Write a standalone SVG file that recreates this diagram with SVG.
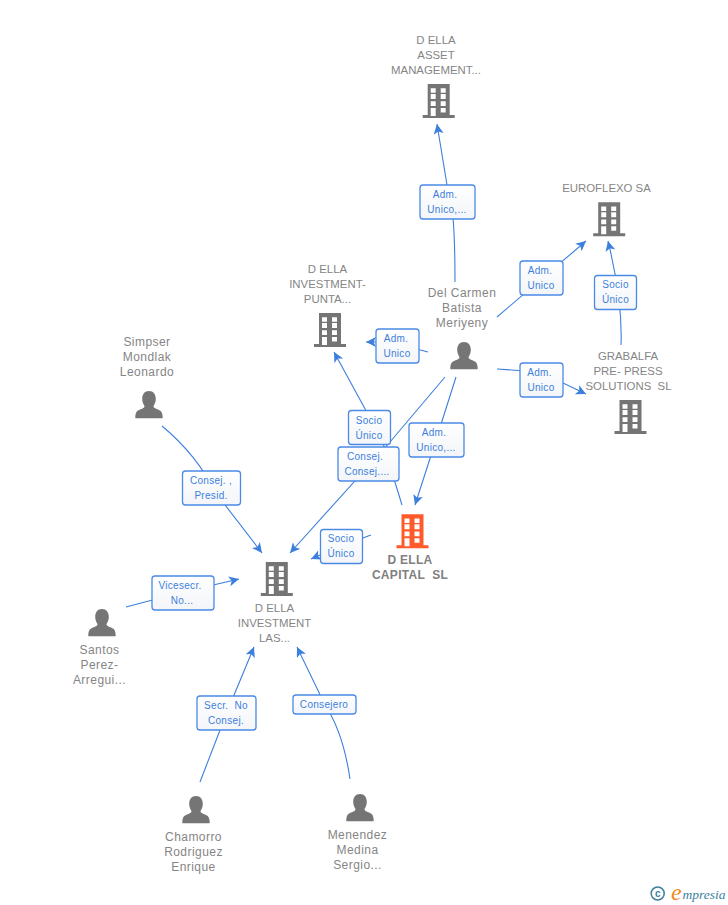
<svg xmlns="http://www.w3.org/2000/svg" xmlns:xlink="http://www.w3.org/1999/xlink" width="728" height="905" viewBox="0 0 728 905">
<style>
text{font-family:"Liberation Sans",Arial,sans-serif;white-space:pre}
.n{font-size:11.4px;fill:#858585;text-anchor:middle}
.m{font-size:12px;letter-spacing:.45px;fill:#858585;text-anchor:middle}
.c{font-size:12px;letter-spacing:.3px;font-weight:bold;fill:#808080;text-anchor:middle}
.l{font-size:10px;letter-spacing:.3px;fill:#3c7fdc;text-anchor:middle}
.b{fill:url(#g);stroke:#4a8ae6;stroke-width:1.3}
.e{fill:none;stroke:#3c7fdc;stroke-width:1.1}
</style>
<defs>
<linearGradient id="g" x1="0" y1="0" x2="0" y2="1"><stop offset="0" stop-color="#fff"/><stop offset="1" stop-color="#f3f5f8"/></linearGradient>
<marker id="a" markerUnits="userSpaceOnUse" markerWidth="12" markerHeight="12" refX="10" refY="5" orient="auto"><path d="M0 0L10 5L0 10L2.500 5Z" fill="#3c7fdc"/></marker>
<g id="bld"><path fill-rule="evenodd" d="M-11 0H11V31H16V34H-16V31H-11ZM-8 4.300V8.700H-3V4.300ZM2 4.300V8.700H7V4.300ZM-8 10V15H-3V10ZM2 10V15H7V10ZM-8 17.300V22H-3V17.300ZM2 17.300V22H7V17.300ZM-8 24V32H-3V24ZM2 24V28.500H7V24Z"/></g>
<g id="per"><path d="M0 0C4.500 0 6.800 3.500 6.800 8C6.800 11 5.500 13.500 4.500 15C4.500 16.500 5.500 17 7.500 18C12 19.500 13.700 20.500 13.700 27.300H-13.700C-13.700 20.500 -12 19.500 -7.500 18C-5.500 17 -4.500 16.500 -4.500 15C-5.500 13.500 -6.800 11 -6.800 8C-6.800 3.500 -4.500 0 0 0Z"/></g>
</defs>
<g id="connectors">
<path class="e" marker-end="url(#a)" d="M455 282C455 260 455 240 453 218L447 185L437 124"/>
<path class="e" marker-end="url(#a)" d="M497 317L586 241"/>
<path class="e" marker-end="url(#a)" d="M621 345C622 320 620 290 608 241"/>
<path class="e" marker-end="url(#a)" d="M497 369L540 372L586 394"/>
<path class="e" marker-end="url(#a)" d="M428 352L390 342L366 342"/>
<path class="e" marker-end="url(#a)" d="M402 505L382 440L334 352"/>
<path class="e" marker-end="url(#a)" d="M445 377L390 442L290 553"/>
<path class="e" marker-end="url(#a)" d="M456 377L436 440L415 505"/>
<path class="e" marker-end="url(#a)" d="M371 535L341 546L311 559"/>
<path class="e" marker-end="url(#a)" d="M162 426C185 445 205 470 212 488L262 553"/>
<path class="e" marker-end="url(#a)" d="M126 607L183 592L239 579"/>
<path class="e" marker-end="url(#a)" d="M200 782L227 712L254 647"/>
<path class="e" marker-end="url(#a)" d="M350 779C345 745 335 720 325 705L297 647"/>
</g>
<g id="label-asset"><rect class="b" x="420" y="185" width="55" height="34" rx="3"/><text class="l" x="445" y="198">Adm.</text><text class="l" x="447" y="213">Unico,...</text></g>
<g id="label-euro"><rect class="b" x="520" y="261" width="43" height="34" rx="3"/><text class="l" x="540" y="274">Adm.</text><text class="l" x="541" y="289">Unico</text></g>
<g id="label-graeuro"><rect class="b" x="594.500" y="275.500" width="42" height="34" rx="3"/><text class="l" x="615.500" y="288">Socio</text><text class="l" x="615.500" y="303">Único</text></g>
<g id="label-gra"><rect class="b" x="520" y="363" width="43" height="34" rx="3"/><text class="l" x="539.500" y="376">Adm.</text><text class="l" x="541" y="391">Unico</text></g>
<g id="label-punta"><rect class="b" x="376" y="329" width="43" height="34" rx="3"/><text class="l" x="396" y="342">Adm.</text><text class="l" x="397" y="357">Unico</text></g>
<g id="label-cons"><rect class="b" x="338" y="447" width="61" height="34" rx="3"/><text class="l" x="365" y="460">Consej.</text><text class="l" x="367" y="475">Consej....</text></g>
<g id="label-socio1"><rect class="b" x="348.500" y="410.500" width="42" height="34" rx="3"/><text class="l" x="369" y="424">Socio</text><text class="l" x="369" y="439">Único</text></g>
<g id="label-adm"><rect class="b" x="409" y="423" width="55" height="34" rx="3"/><text class="l" x="434" y="436">Adm.</text><text class="l" x="436" y="451">Unico,...</text></g>
<g id="label-socio2"><rect class="b" x="320.500" y="529.500" width="42" height="34" rx="3"/><text class="l" x="341" y="542">Socio</text><text class="l" x="341" y="557">Único</text></g>
<g id="label-presid"><rect class="b" x="182.500" y="471" width="58" height="34" rx="3"/><text class="l" x="211" y="484">Consej. ,</text><text class="l" x="211" y="499">Presid.</text></g>
<g id="label-vice"><rect class="b" x="152" y="576" width="62" height="34" rx="3"/><text class="l" x="180" y="589">Vicesecr.</text><text class="l" x="182" y="604">No...</text></g>
<g id="label-secr"><rect class="b" x="197" y="696" width="59" height="34" rx="3"/><text class="l" x="226" y="709">Secr.  No</text><text class="l" x="226" y="724">Consej.</text></g>
<g id="label-consejero"><rect class="b" x="293" y="695" width="63" height="19" rx="3"/><text class="l" x="324" y="708">Consejero</text></g>
<g id="node-asset" fill="#757575"><use xlink:href="#bld" href="#bld" x="438.700" y="84"/><text class="n" x="436" y="44">D ELLA</text><text class="n" x="436" y="59">ASSET</text><text class="n" x="436" y="74">MANAGEMENT...</text></g>
<g id="node-euroflexo" fill="#757575"><use xlink:href="#bld" href="#bld" x="609.200" y="202.300"/><text class="n" x="606.500" y="192">EUROFLEXO SA</text></g>
<g id="node-grabalfa" fill="#757575"><use xlink:href="#bld" href="#bld" x="630.500" y="400"/><text class="n" x="628" y="360">GRABALFA</text><text class="n" x="628" y="375">PRE- PRESS</text><text class="n" x="628.500" y="390">SOLUTIONS  SL</text></g>
<g id="node-punta" fill="#757575"><use xlink:href="#bld" href="#bld" x="330" y="313"/><text class="n" x="327.500" y="273">D ELLA</text><text class="n" x="327.500" y="288">INVESTMENT-</text><text class="n" x="327.500" y="303">PUNTA...</text></g>
<g id="node-capital" fill="#ff5a2b"><use xlink:href="#bld" href="#bld" x="412.500" y="514.300"/><text class="c" x="410" y="564">D ELLA</text><text class="c" x="410" y="579">CAPITAL  SL</text></g>
<g id="node-las" fill="#757575"><use xlink:href="#bld" href="#bld" x="276.800" y="562"/><text class="n" x="274.500" y="612">D ELLA</text><text class="n" x="274.500" y="627">INVESTMENT</text><text class="n" x="274.500" y="642">LAS...</text></g>
<g id="node-delcarmen" fill="#757575"><use xlink:href="#per" href="#per" x="464" y="342"/><text class="m" x="462" y="297">Del Carmen</text><text class="m" x="462" y="312">Batista</text><text class="m" x="462" y="327">Meriyeny</text></g>
<g id="node-simpser" fill="#757575"><use xlink:href="#per" href="#per" x="149" y="391"/><text class="m" x="147" y="346">Simpser</text><text class="m" x="147" y="361">Mondlak</text><text class="m" x="147" y="376">Leonardo</text></g>
<g id="node-santos" fill="#757575"><use xlink:href="#per" href="#per" x="102" y="609"/><text class="m" x="99.500" y="654">Santos</text><text class="m" x="99.500" y="669">Perez-</text><text class="m" x="99.500" y="684">Arregui...</text></g>
<g id="node-chamorro" fill="#757575"><use xlink:href="#per" href="#per" x="196" y="796"/><text class="m" x="193.500" y="841">Chamorro</text><text class="m" x="193.500" y="856">Rodriguez</text><text class="m" x="193.500" y="871">Enrique</text></g>
<g id="node-menendez" fill="#757575"><use xlink:href="#per" href="#per" x="360" y="794"/><text class="m" x="357.500" y="839">Menendez</text><text class="m" x="357.500" y="854">Medina</text><text class="m" x="357.500" y="869">Sergio...</text></g>
<g id="logo"><circle cx="657.700" cy="893.500" r="6.500" fill="none" stroke="#3d7f9e" stroke-width="1.500"/><text x="657.700" y="897" font-size="10" font-weight="bold" fill="#3d7f9e" text-anchor="middle">c</text><text x="671" y="900" style="font-family:'Liberation Serif',serif" font-size="24" font-style="italic" fill="#f08a1d">e</text><text x="682.500" y="899" style="font-family:'Liberation Serif',serif" font-size="13.500" font-style="italic" fill="#3d7f9e">mpresia</text></g>
</svg>
